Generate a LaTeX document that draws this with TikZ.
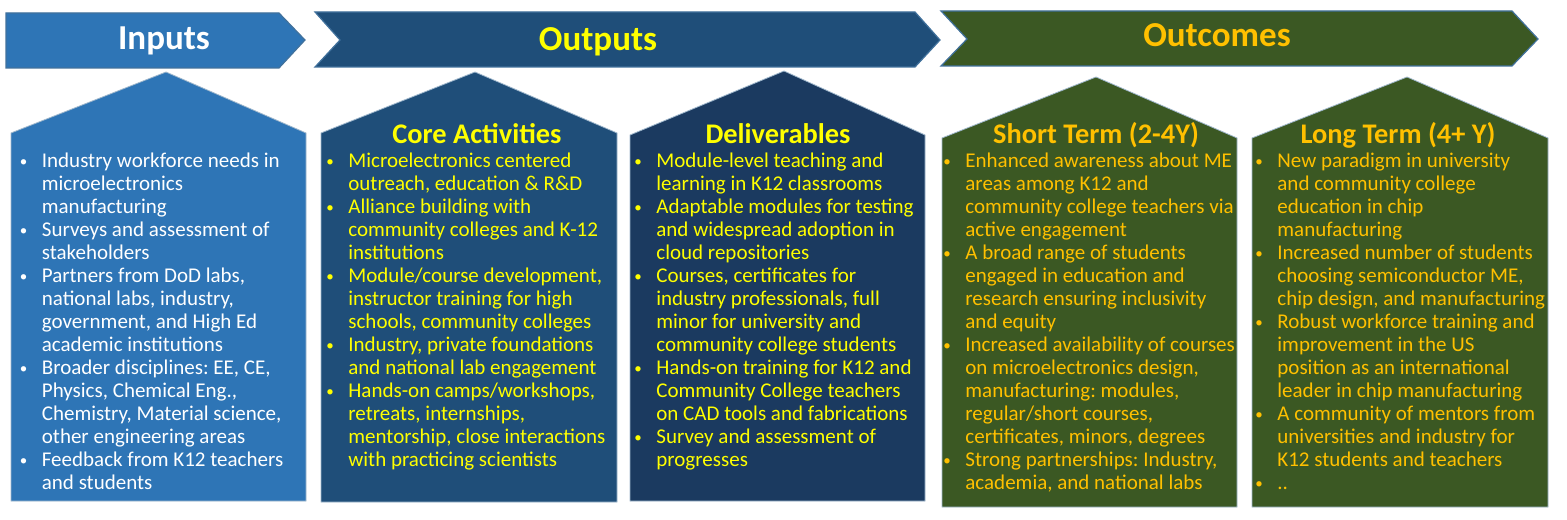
\documentclass[tikz,border=0pt]{standalone}
\usepackage{fontspec}
\setmainfont{Carlito}
\usepackage{tikz}
\usetikzlibrary{positioning}
\definecolor{inblue}{HTML}{2E75B6}
\definecolor{outblue}{HTML}{1F4E79}
\definecolor{delblue}{HTML}{1B3A60}
\definecolor{ocgreen}{HTML}{3B5823}
\definecolor{edgeblue}{HTML}{41719C}
\definecolor{gold}{HTML}{FFC000}
\definecolor{lemon}{HTML}{FFFF00}
\tikzstyle{banner} = [draw=edgeblue, line width=0.6pt]
\tikzstyle{house} = [draw=edgeblue!50, line width=0.4pt]
\tikzstyle{title} = [font=\fontsize{17.5}{20}\selectfont\bfseries, anchor=base, inner sep=0pt]
\tikzstyle{head} = [font=\fontsize{14.2}{16}\selectfont\bfseries, anchor=base, inner sep=0pt]
\tikzstyle{list} = [font=\fontsize{10.5}{11.5}\selectfont\frenchspacing, align=left, anchor=north west, inner sep=0pt]
\newcommand{\bul}{\rule{0pt}{8pt}\makebox[11pt][l]{\raisebox{0.6pt}{\fontsize{7.5}{8}\selectfont\textbullet}}}
\newcommand{\ind}{\hspace*{11pt}}

\begin{document}
\begin{tikzpicture}[x=0.5pt, y=-0.5pt]
    \useasboundingbox [fill=white] (0,0) rectangle (1567,519);
    % banners
    \draw [banner, fill=inblue] (6,13) -- (279,13) -- (305,40) -- (279,68) -- (6,68) -- cycle;
    \draw [banner, fill=outblue] (315,12) -- (915,12) -- (940,40) -- (915,67) -- (315,67) -- (340,40) -- cycle;
    \draw [banner, fill=ocgreen] (941,11) -- (1512,11) -- (1538,39) -- (1512,66) -- (941,66) -- (967,39) -- cycle;
    \node [title, text=white] at (164,50) (inputs) {Inputs};
    \node [title, text=lemon] at (598,51) (outputs) {Outputs};
    \node [title, text=gold] at (1217,47) (outcomes) {Outcomes};
    % houses
    \draw [house, fill=inblue] (11,501) -- (11,133) -- (166,72) -- (306,133) -- (306,501) -- cycle;
    \draw [house, fill=outblue] (321,502) -- (321,133) -- (475,72) -- (617,133) -- (617,502) -- cycle;
    \draw [house, fill=delblue] (630,501) -- (630,135) -- (784,71) -- (925,135) -- (925,501) -- cycle;
    \draw [house, fill=ocgreen] (942,507) -- (942,138) -- (1096,77) -- (1237,138) -- (1237,507) -- cycle;
    \draw [house, fill=ocgreen] (1252,507) -- (1252,138) -- (1407,77) -- (1548,138) -- (1548,507) -- cycle;
    \node [head, text=lemon] at (477,143) (corehead) {Core Activities};
    \node [head, text=lemon] at (778,143) (delivhead) {Deliverables};
    \node [head, text=gold] at (1096,143) (shorthead) {Short Term (2-4Y)};
    \node [head, text=gold] at (1398,143) (longhead) {Long Term (4+ Y)};
    % lists
    \node [list, text=white] at (19.5,151) (inplist) {%
      \bul Industry workforce needs in\\ \ind microelectronics\\ \ind manufacturing\\
      \bul Surveys and assessment of\\ \ind stakeholders\\
      \bul Partners from DoD labs,\\ \ind national labs, industry,\\ \ind government, and High Ed\\ \ind academic institutions\\
      \bul Broader disciplines: EE, CE,\\ \ind Physics, Chemical Eng.,\\ \ind Chemistry, Material science,\\ \ind other engineering areas\\
      \bul Feedback from K12 teachers\\ \ind and students};
    \node [list, text=lemon] at (326,151) (corelist) {%
      \bul Microelectronics centered\\ \ind outreach, education \& R\&D\\
      \bul Alliance building with\\ \ind community colleges and K-12\\ \ind institutions\\
      \bul Module/course development,\\ \ind instructor training for high\\ \ind schools, community colleges\\
      \bul Industry, private foundations\\ \ind and national lab engagement\\
      \bul Hands-on camps/workshops,\\ \ind retreats, internships,\\ \ind mentorship, close interactions\\ \ind with practicing scientists};
    \node [list, text=lemon] at (634,151) (delivlist) {%
      \bul Module-level teaching and\\ \ind learning in K12 classrooms\\
      \bul Adaptable modules for testing\\ \ind and widespread adoption in\\ \ind cloud repositories\\
      \bul Courses, certificates for\\ \ind industry professionals, full\\ \ind minor for university and\\ \ind community college students\\
      \bul Hands-on training for K12 and\\ \ind Community College teachers\\ \ind on CAD tools and fabrications\\
      \bul Survey and assessment of\\ \ind progresses};
    \node [list, text=gold] at (943,151) (shortlist) {%
      \bul Enhanced awareness about ME\\ \ind areas among K12 and\\ \ind community college teachers via\\ \ind active engagement\\
      \bul A broad range of students\\ \ind engaged in education and\\ \ind research ensuring inclusivity\\ \ind and equity\\
      \bul Increased availability of courses\\ \ind on microelectronics design,\\ \ind manufacturing: modules,\\ \ind regular/short courses,\\ \ind certificates, minors, degrees\\
      \bul Strong partnerships: Industry,\\ \ind academia, and national labs};
    \node [list, text=gold] at (1255,151) (longlist) {%
      \bul New paradigm in university\\ \ind and community college\\ \ind education in chip\\ \ind manufacturing\\
      \bul Increased number of students\\ \ind choosing semiconductor ME,\\ \ind chip design, and manufacturing\\
      \bul Robust workforce training and\\ \ind improvement in the US\\ \ind position as an international\\ \ind leader in chip manufacturing\\
      \bul A community of mentors from\\ \ind universities and industry for\\ \ind K12 students and teachers\\
      \bul ..};
\end{tikzpicture}
\end{document}
